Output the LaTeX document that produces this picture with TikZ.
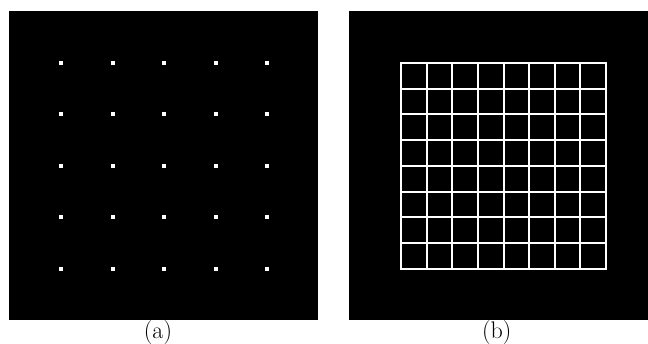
\documentclass[tikz,border=0pt]{standalone}
\begin{document}
\begin{tikzpicture}[x=1pt,y=-1pt,
  panel/.style={fill=black},
  dotmark/.style={fill=white,minimum size=4pt,inner sep=0pt,outer sep=0pt,shape=rectangle},
  gridline/.style={draw=white,line width=2pt},
  caption/.style={anchor=base,font=\fontsize{24}{28}\selectfont,inner sep=0pt}]
\useasboundingbox (0,0) rectangle (648,344);
\fill[white] (0,0) rectangle (648,344);
% panels
\fill[panel] (9,11) rectangle (318,320);
\fill[panel] (349,11) rectangle (648,320);
% dots
\foreach \i in {0,...,4}{
  \foreach \j in {0,...,4}{
    \node[dotmark] (d\i\j) at ({61+51.5*\i},{63+51.425*\j}) {};
  }
}
% grid
\foreach \k in {0,...,8}{
  \draw[gridline] ({401+25.625*\k},63) -- ({401+25.625*\k},268.7);
  \draw[gridline] (401,{63+25.7125*\k}) -- (606,{63+25.7125*\k});
}
\draw[gridline] (401,63) rectangle (606,268.7);
% captions
\node[caption] (capa) at (158,338.7) {(a)};
\node[caption] (capb) at (496.7,338.7) {(b)};
\end{tikzpicture}
\end{document}
